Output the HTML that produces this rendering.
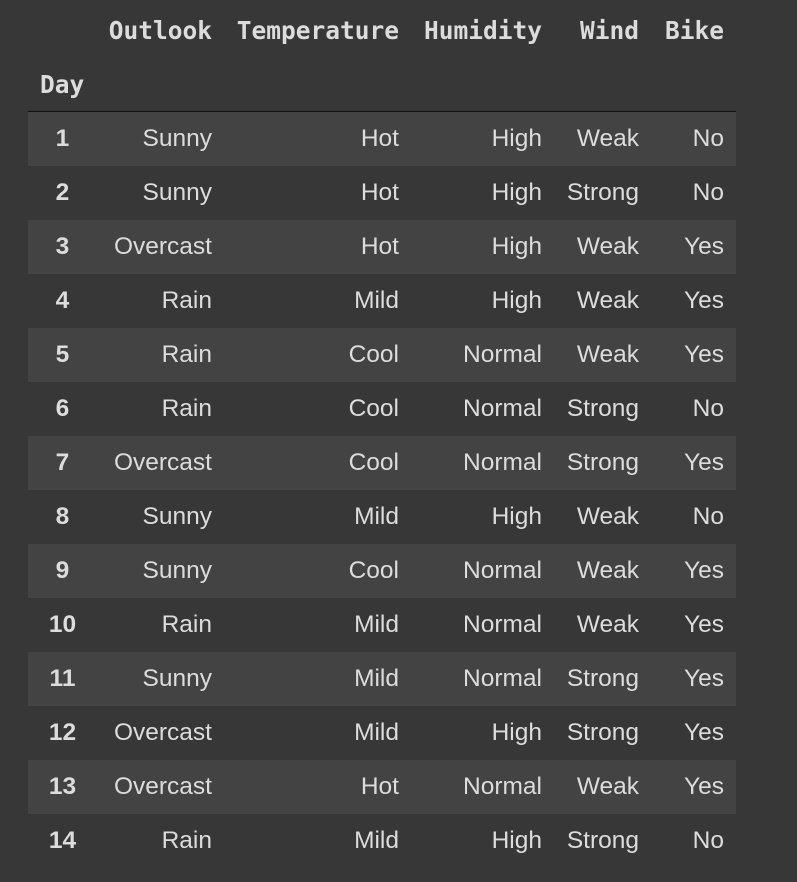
<!DOCTYPE html>
<html><head><meta charset="utf-8"><style>
html,body{margin:0;padding:0;background:#373737;width:797px;height:882px;overflow:hidden}
table{position:absolute;left:28px;top:3px;border-collapse:collapse;table-layout:fixed;width:708px;color:#dcdcdc}
th,td{padding:0 12px 0 0;text-align:right;white-space:nowrap}
thead th{font:bold 24.5px "DejaVu Sans Mono","Liberation Mono",monospace;height:54px;color:#dcdcdc}
thead tr.idx th{text-align:left;padding-left:12px}
thead tr.idx{border-bottom:1px solid #111}
tbody td{font:24.5px "Liberation Sans",sans-serif;height:54px;padding-top:1px;box-sizing:border-box}
tbody th{font:bold 24.5px "Liberation Sans",sans-serif;text-align:center;padding:1px 0 0 0}
tbody tr:nth-child(odd){background:#434343}
</style></head><body>
<table>
<colgroup><col style="width:69px"><col style="width:127px"><col style="width:187px"><col style="width:143px"><col style="width:97px"><col style="width:85px"></colgroup>
<thead>
<tr><th></th><th>Outlook</th><th>Temperature</th><th>Humidity</th><th>Wind</th><th>Bike</th></tr>
<tr class="idx"><th>Day</th><th></th><th></th><th></th><th></th><th></th></tr>
</thead>
<tbody id="tb"></tbody>
</table>
<script>
const days=[1,2,3,4,5,6,7,8,9,10,11,12,13,14];
const outlook=["Sunny","Sunny","Overcast","Rain","Rain","Rain","Overcast","Sunny","Sunny","Rain","Sunny","Overcast","Overcast","Rain"];
const temperature=["Hot","Hot","Hot","Mild","Cool","Cool","Cool","Mild","Cool","Mild","Mild","Mild","Hot","Mild"];
const humidity=["High","High","High","High","Normal","Normal","Normal","High","Normal","Normal","Normal","High","Normal","High"];
const wind=["Weak","Strong","Weak","Weak","Weak","Strong","Strong","Weak","Weak","Weak","Strong","Strong","Weak","Strong"];
const bike=["No","No","Yes","Yes","Yes","No","Yes","No","Yes","Yes","Yes","Yes","Yes","No"];
const tb=document.getElementById('tb');
days.forEach((d,i)=>{
  const tr=document.createElement('tr');
  
  
  const th=document.createElement('th');th.textContent=d;
  
  
  tr.appendChild(th);
  [outlook[i],temperature[i],humidity[i],wind[i],bike[i]].forEach(v=>{
    const td=document.createElement('td');td.textContent=v;
    
    
    tr.appendChild(td);
  });
  tb.appendChild(tr);
});
</script>
</body></html>
